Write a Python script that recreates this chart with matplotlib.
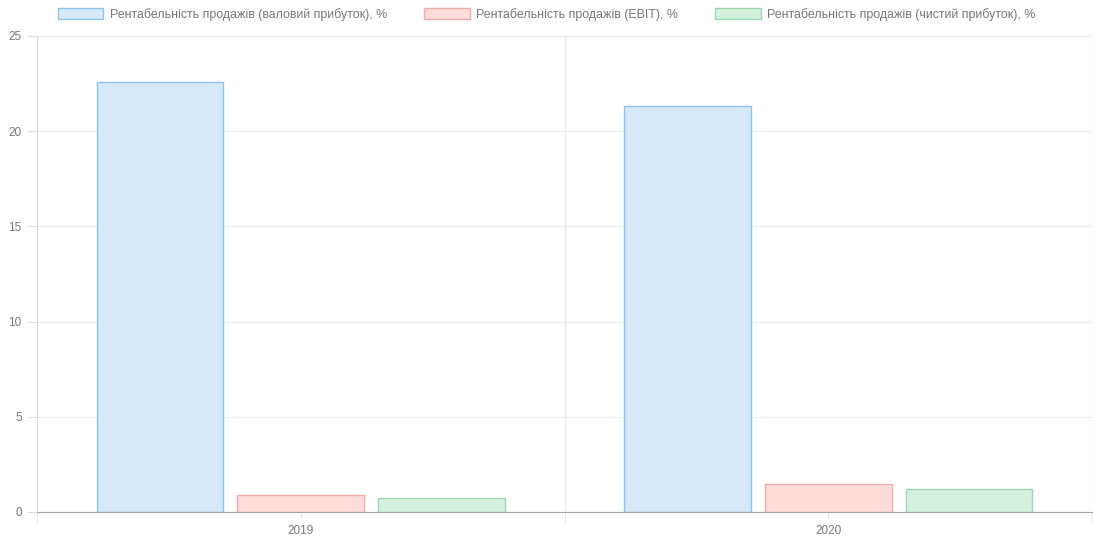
import matplotlib.pyplot as plt
import numpy as np

plt.rcParams['font.family'] = ['Liberation Sans', 'DejaVu Sans']

# Рентабельність продажів по роках
years = ['2019', '2020']
gross_margin = [22.6, 21.3]
ebit_margin = [0.89, 1.45]
net_margin = [0.75, 1.19]

series = [
    ('Рентабельність продажів (валовий прибуток), %', gross_margin, '#d5e9f8', '#8cc4ec'),
    ('Рентабельність продажів (EBIT), %', ebit_margin, '#fddcda', '#f3aaa8'),
    ('Рентабельність продажів (чистий прибуток), %', net_margin, '#d3f0de', '#9bd8b0'),
]

fig = plt.figure(figsize=(10.93, 5.38), dpi=100)
fig.patch.set_facecolor('white')
ax = fig.add_axes([37 / 1093, 1 - 512 / 538, 1055 / 1093, 476 / 538])

x = np.arange(len(years))
slot = 0.8 / 3
width = slot * 0.9
for i, (label, vals, fill, edge) in enumerate(series):
    ax.bar(x + (i - 1) * slot, vals, width, color=fill, edgecolor=edge,
           linewidth=1, label=label, zorder=3)

ax.set_xlim(-0.5, len(years) - 0.5)
ax.set_ylim(0, 25)
ax.set_yticks(np.arange(0, 26, 5))
ax.set_xticks(x)
ax.set_xticklabels(years)
ax.set_xticks(np.arange(-0.5, len(years), 1), minor=True)

ax.grid(True, axis='y', color='#ebebeb', linewidth=0.8, zorder=0)
ax.grid(True, axis='x', which='minor', color='#ebebeb', linewidth=0.8, zorder=0)
ax.tick_params(axis='y', length=7, color='#e0e0e0', labelsize=8.5, labelcolor='#777777', pad=4)
ax.tick_params(axis='x', which='major', length=4, color='#e0e0e0', labelsize=8.5, labelcolor='#777777', pad=5)
ax.tick_params(axis='x', which='minor', length=7, color='#e0e0e0')

for s in ['top', 'right']:
    ax.spines[s].set_visible(False)
ax.spines['left'].set_color('#d9d9d9')
ax.spines['bottom'].set_color('#a6a6a6')
ax.spines['left'].set_zorder(4)
ax.spines['bottom'].set_zorder(4)

fig.legend(loc='upper center', bbox_to_anchor=(0.5, 1.006), ncol=3, frameon=False,
           handlelength=3.7, handleheight=1.0, columnspacing=3.0, handletextpad=0.5,
           prop={'size': 8.9}, labelcolor='#777777')

plt.savefig('out.png', dpi=100, facecolor='white')
